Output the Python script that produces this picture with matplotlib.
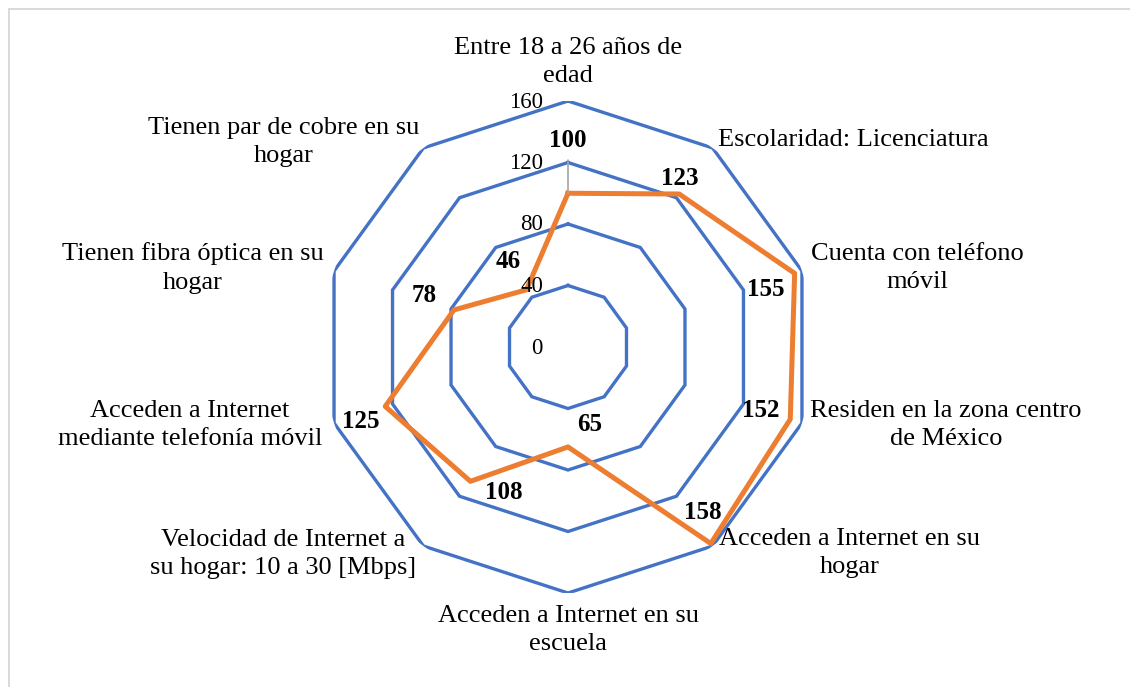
import numpy as np
import matplotlib
matplotlib.use("Agg")
import matplotlib.pyplot as plt
from matplotlib.patches import Rectangle

categories = [
    "Entre 18 a 26 años de\nedad",
    "Escolaridad: Licenciatura",
    "Cuenta con teléfono\nmóvil",
    "Residen en la zona centro\nde México",
    "Acceden a Internet en su\nhogar",
    "Acceden a Internet en su\nescuela",
    "Velocidad de Internet a\nsu hogar: 10 a 30 [Mbps]",
    "Acceden a Internet\nmediante telefonía móvil",
    "Tienen fibra óptica en su\nhogar",
    "Tienen par de cobre en su\nhogar",
]
values = [100, 123, 155, 152, 158, 65, 108, 125, 78, 46]
ring_values = [40, 80, 120, 160]
tick_labels = ["0", "40", "80", "120", "160"]
tick_positions = [0, 40, 80, 120, 160]

plt.rcParams['font.family'] = ['Liberation Serif', 'DejaVu Serif']

W, H = 1130, 687
fig = plt.figure(figsize=(W / 100, H / 100), dpi=100)
fig.patch.set_facecolor('white')

cx, cy, R = 568, 347, 246
ax = fig.add_axes([(cx - R) / W, 1 - (cy + R) / H, 2 * R / W, 2 * R / H], projection='polar')
ax.set_theta_offset(np.pi / 2)
ax.set_theta_direction(-1)
ax.set_ylim(0, 160)
ax.grid(False)
ax.spines['polar'].set_visible(False)
ax.set_xticks([])
ax.set_yticks([])
ax.patch.set_alpha(0)

n = len(categories)
theta = np.arange(n) * 2 * np.pi / n
theta_c = np.append(theta, theta[0])

blue = '#4472C4'
orange = '#ED7D31'
for r in ring_values:
    ax.plot(theta_c, [r] * (n + 1), color=blue, lw=2.4, solid_joinstyle='miter', zorder=2)

vals_c = values + [values[0]]
ax.plot(theta_c, vals_c, color=orange, lw=3.6, solid_joinstyle='round', zorder=3)

# radial tick labels
for t, lab in zip(tick_positions, tick_labels):
    ax.annotate(lab, xy=(0, t), xytext=(-25, -1), textcoords='offset pixels',
                ha='right', va='center', fontsize=16.5, color='black', zorder=4)

# data labels (offsets in pixels, y up)
label_offsets = [(0, 53), (1, 16), (-29, -16), (-30, 9), (-8, 31),
                 (22, 22), (33, -11), (-24, -15), (-30, 14), (-18, 28)]
for i, (v, off) in enumerate(zip(values, label_offsets)):
    if i == 0:
        ax.annotate(str(v), xy=(theta[i], v), xytext=off, textcoords='offset pixels',
                    ha='center', va='center', fontsize=18, fontweight='bold', zorder=5,
                    arrowprops=dict(arrowstyle='-', color='#A6A6A6', lw=1.2,
                                    shrinkA=4, shrinkB=0))
    else:
        ax.annotate(str(v), xy=(theta[i], v), xytext=off, textcoords='offset pixels',
                    ha='center', va='center', fontsize=18, fontweight='bold', zorder=5)

# category labels (offsets in pixels from outer vertex, y up)
cat_offsets = [(0, 39), (141, 8), (115, 3), (144, -2), (137, -7),
               (0, -37), (-140, -8), (-144, -2), (-141, 3), (-140, 6)]
for i, (lab, off) in enumerate(zip(categories, cat_offsets)):
    ax.annotate(lab, xy=(theta[i], 160), xytext=off, textcoords='offset pixels',
                ha='center', va='center', multialignment='center', fontsize=19,
                linespacing=1.38, zorder=5, annotation_clip=False)

# outer light border
fig.patches.append(Rectangle((8.5 / W, -0.05), 1.2, (H - 9) / H + 0.05 - 0.0007,
                             transform=fig.transFigure, fill=False,
                             edgecolor='#D9D9D9', lw=1.4))

fig.savefig('out.png', dpi=100)
